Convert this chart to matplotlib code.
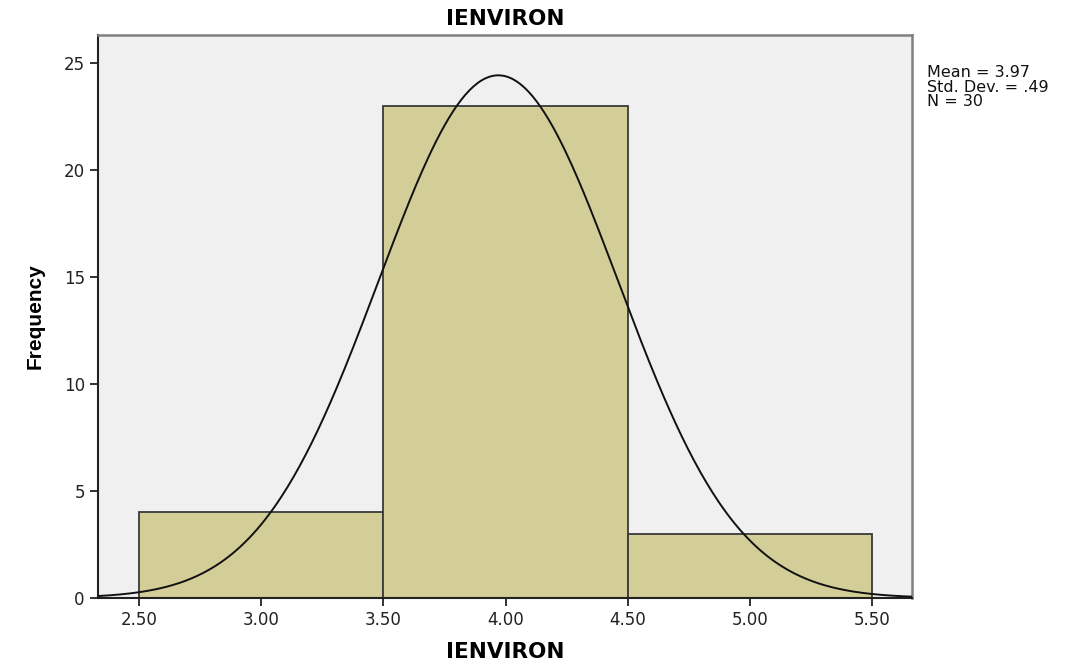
import numpy as np
import matplotlib.pyplot as plt

# histogram of IENVIRON (SPSS style)
bin_edges = [2.5, 3.5, 4.5, 5.5]
counts = [4, 23, 3]
mean_val = 3.97
std_val = 0.49
n_obs = 30
xticks = [2.5, 3.0, 3.5, 4.0, 4.5, 5.0, 5.5]
xtick_labels = ["2.50", "3.00", "3.50", "4.00", "4.50", "5.00", "5.50"]
yticks = [0, 5, 10, 15, 20, 25]

plt.rcParams['font.family'] = ['DejaVu Sans']

fig = plt.figure(figsize=(10.75, 6.64), dpi=100)
ax = fig.add_axes([0.0912, 0.0994, 0.7572, 0.8479])
ax.set_facecolor("#f0f0f0")

widths = np.diff(bin_edges)
ax.bar(bin_edges[:-1], counts, width=widths, align="edge",
       color="#d3ce97", edgecolor="#3a3a3a", linewidth=1.3, zorder=2)

# normal curve scaled to the counts
xs = np.linspace(2.33, 5.665, 400)
bw = widths[0]
ys = n_obs * bw / (std_val * np.sqrt(2 * np.pi)) * np.exp(-0.5 * ((xs - mean_val) / std_val) ** 2)
ax.plot(xs, ys, color="#111111", linewidth=1.4, zorder=3)

ax.set_xlim(2.332, 5.663)
ax.set_ylim(0, 26.31)
ax.set_xticks(xticks)
ax.set_xticklabels(xtick_labels)
ax.set_yticks(yticks)
ax.tick_params(direction="out", length=6, width=1.3, labelsize=12, colors="#222222")

for side in ["left", "bottom"]:
    ax.spines[side].set_color("#222222")
    ax.spines[side].set_linewidth(1.5)
for side in ["top", "right"]:
    ax.spines[side].set_color("#808080")
    ax.spines[side].set_linewidth(1.8)

ax.set_title("IENVIRON", fontsize=15.5, fontweight="bold", pad=7)
ax.set_xlabel("IENVIRON", fontsize=15.5, fontweight="bold", labelpad=9)
ax.set_ylabel("Frequency", fontsize=15, fontweight="bold", labelpad=14,
              family=['Liberation Sans', 'DejaVu Sans'])

fig.text(0.862, 0.902, "Mean = %.2f\nStd. Dev. = %s\nN = %d" % (mean_val, ("%.2f" % std_val)[1:], n_obs),
         fontsize=11.5, va="top", ha="left", linespacing=0.97, color="#111111")

plt.savefig("out.png", dpi=100)
